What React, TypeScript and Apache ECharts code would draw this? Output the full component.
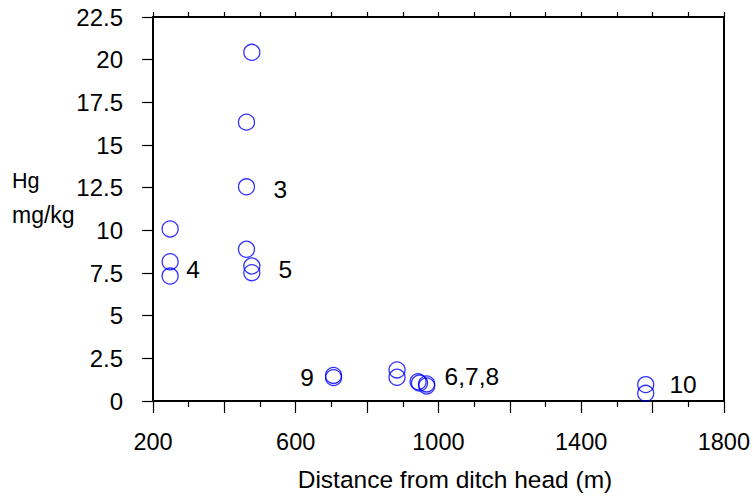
import React, { useEffect, useRef } from "react";
import * as echarts from "echarts";

const distance = [477, 462, 462, 462, 477, 477, 248, 248, 248, 706, 706, 884, 884, 943, 947, 967, 967, 1581, 1581];
const mercury = [20.43, 16.34, 12.55, 8.89, 7.91, 7.52, 10.08, 8.16, 7.32, 1.5, 1.37, 1.82, 1.39, 1.13, 1.05, 1.0, 0.88, 0.96, 0.45];

const siteLabels = ["3", "4", "5", "9", "6,7,8", "10"];
const siteLabelX = [558, 314, 572, 633, 1095, 1687];
const siteLabelY = [12.36, 7.67, 7.67, 1.35, 1.41, 0.94];

const xTickLabels = [200, 600, 1000, 1400, 1800];

const FONT = "'Liberation Sans', Arial, Helvetica, sans-serif";

export default function App() {
  const ref = useRef<HTMLDivElement>(null);
  useEffect(() => {
    if (!ref.current) return;
    const chart = echarts.init(ref.current, null, { renderer: "svg" });
    const pts = distance.map((d, i) => [d, mercury[i]]);
    const labelPts = siteLabels.map((s, i) => ({ name: s, value: [siteLabelX[i], siteLabelY[i]] }));
    chart.setOption({
      animation: false,
      backgroundColor: "#ffffff",
      textStyle: { fontFamily: FONT },
      grid: { left: 153, top: 17, width: 576, height: 384, containLabel: false },
      xAxis: [
        {
          type: "value",
          position: "bottom",
          min: 200,
          max: 1800,
          interval: 200,
          axisLine: { show: true, onZero: false, lineStyle: { color: "#000", width: 2 } },
          axisTick: { show: true, inside: false, length: 12, lineStyle: { color: "#000", width: 1.2 } },
          minorTick: { show: true, splitNumber: 2, length: 6, lineStyle: { color: "#000", width: 1.2 } },
          axisLabel: {
            margin: 29,
            fontSize: 23.5,
            color: "#000",
            fontFamily: FONT,
            formatter: (v: number) => (xTickLabels.indexOf(v) >= 0 ? String(v) : ""),
          },
          splitLine: { show: false },
        },
        {
          type: "value",
          position: "top",
          min: 200,
          max: 1800,
          interval: 100,
          axisLine: { show: true, onZero: false, lineStyle: { color: "#000", width: 2 } },
          axisTick: { show: true, inside: false, length: 5, lineStyle: { color: "#000", width: 1.2 } },
          axisLabel: { show: false },
          splitLine: { show: false },
        },
      ],
      yAxis: [
        {
          type: "value",
          position: "left",
          min: 0,
          max: 22.5,
          interval: 2.5,
          axisLine: { show: true, onZero: false, lineStyle: { color: "#000", width: 2 } },
          axisTick: { show: true, inside: false, length: 11, lineStyle: { color: "#000", width: 1.2 } },
          axisLabel: { margin: 30, fontSize: 24, color: "#000", fontFamily: FONT },
          splitLine: { show: false },
        },
        {
          type: "value",
          position: "right",
          min: 0,
          max: 22.5,
          interval: 2.5,
          axisLine: { show: true, onZero: false, lineStyle: { color: "#000", width: 2 } },
          axisTick: { show: false },
          axisLabel: { show: false },
          splitLine: { show: false },
        },
      ],
      series: [
        {
          type: "scatter",
          xAxisIndex: 0,
          yAxisIndex: 0,
          data: pts,
          symbol: "circle",
          symbolSize: 16,
          itemStyle: { color: "transparent", borderColor: "#0000ff", borderWidth: 1.3 },
          emphasis: { disabled: true },
        },
        {
          type: "scatter",
          xAxisIndex: 0,
          yAxisIndex: 0,
          data: labelPts,
          symbolSize: 1,
          silent: true,
          itemStyle: { color: "transparent", opacity: 1 },
          label: {
            show: true,
            position: [0, 0],
            align: "center",
            verticalAlign: "middle",
            formatter: (p: any) => p.name,
            fontSize: 24.5,
            color: "#000000",
            opacity: 1,
            textBorderWidth: 0,
            textBorderColor: "transparent",
            fontFamily: FONT,
          },
        },
      ],
      graphic: [
        {
          type: "text",
          x: 455,
          y: 479,
          style: {
            text: "Distance from ditch head (m)",
            fontSize: 24.5,
            fontFamily: FONT,
            fill: "#000",
            align: "center",
            verticalAlign: "middle",
          },
        },
        {
          type: "text",
          x: 12,
          y: 181,
          style: { text: "Hg", fontSize: 21.5, fontFamily: FONT, fill: "#000", align: "left", verticalAlign: "middle" },
        },
        {
          type: "text",
          x: 12,
          y: 215,
          style: { text: "mg/kg", fontSize: 23, fontFamily: FONT, fill: "#000", align: "left", verticalAlign: "middle" },
        },
      ],
    });
    return () => chart.dispose();
  }, []);
  return (
    <div
      ref={ref}
      style={{ position: "fixed", left: 0, top: 0, width: 753, height: 497, background: "#fff" }}
    />
  );
}
